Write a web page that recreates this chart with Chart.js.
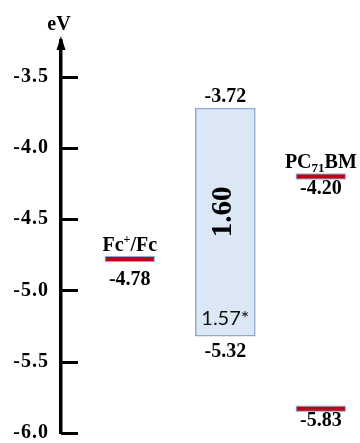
<!DOCTYPE html>
<html>
<head>
<meta charset="utf-8">
<script src="https://cdn.jsdelivr.net/npm/chart.js@4/dist/chart.umd.min.js"></script>
<style>
  html, body { margin: 0; padding: 0; background: #fff; }
  #wrap { width: 360px; height: 443px; }
</style>
</head>
<body>
<div id="wrap"><canvas id="chart"></canvas></div>
<script>
// 能階數據 (eV)
const columns = ['Fc+/Fc', 'gap', 'PC71BM'];
const fcLevels = [-4.78];
const gapLevels = [-3.72, -5.32];      // LUMO, HOMO
const gapLabels = ['1.60', '1.57*'];
const pcbmLevels = [-4.20, -5.83];
const yTicks = [-3.5, -4.0, -4.5, -5.0, -5.5, -6.0];
const yMin = -6.0;
const yMax = -3.25;

const SERIF = '"Liberation Serif", "Times New Roman", serif';
const RED = '#c00018';
const EDGE = '#8eaad2';

// 每一欄的位置就是它在 columns 裡的索引
const fcX = columns.indexOf('Fc+/Fc');
const gapX = columns.indexOf('gap');
const pcbmX = columns.indexOf('PC71BM');

const levelPoints = [
  ...fcLevels.map(v => ({ x: fcX, y: v })),
  ...pcbmLevels.map(v => ({ x: pcbmX, y: v }))
];

// 畫混合上下標的文字
function drawRuns(ctx, runs, cx, cy) {
  let total = 0;
  runs.forEach(r => {
    ctx.font = 'bold ' + r.size + 'px ' + SERIF;
    r.w = ctx.measureText(r.t).width;
    total += r.w;
  });
  let x = cx - total / 2;
  ctx.textAlign = 'left';
  ctx.textBaseline = 'alphabetic';
  runs.forEach(r => {
    ctx.font = 'bold ' + r.size + 'px ' + SERIF;
    ctx.fillText(r.t, x, cy + 7 + (r.dy || 0));
    x += r.w;
  });
}

function drawText(ctx, text, x, y, font) {
  ctx.font = font;
  ctx.textAlign = 'center';
  ctx.textBaseline = 'middle';
  ctx.fillText(text, x, y);
}

// 字距稍微拉開一點
const spacingPlugin = {
  id: 'spacing',
  beforeDraw(chart) { chart.ctx.letterSpacing = '1px'; },
  afterDraw(chart) { chart.ctx.letterSpacing = '0px'; }
};

const levelPlugin = {
  id: 'levelLabels',
  afterDraw(chart) {
    const ctx = chart.ctx;
    const xs = chart.scales.x;
    const ys = chart.scales.y;
    const axisX = chart.chartArea.left;
    const top = chart.chartArea.top;
    ctx.save();
    ctx.fillStyle = '#000';
    ctx.strokeStyle = '#000';

    // 刻度往右畫
    ctx.lineWidth = 3;
    ys.ticks.forEach(t => {
      const py = Math.round(ys.getPixelForValue(t.value)) + 0.5;
      ctx.beginPath();
      ctx.moveTo(axisX, py);
      ctx.lineTo(axisX + 17, py);
      ctx.stroke();
    });

    // 箭頭 + eV
    ctx.beginPath();
    ctx.moveTo(axisX, top - 5);
    ctx.lineTo(axisX - 4.5, top + 9);
    ctx.lineTo(axisX + 4.5, top + 9);
    ctx.closePath();
    ctx.fill();
    drawText(ctx, 'eV', axisX - 2, top - 16, 'bold 20px ' + SERIF);

    const valFont = 'bold 20px ' + SERIF;

    // Fc+/Fc
    const fx = xs.getPixelForValue(fcX);
    const fy = ys.getPixelForValue(fcLevels[0]);
    drawRuns(ctx, [
      { t: 'Fc', size: 20 },
      { t: '+', size: 12, dy: -8 },
      { t: '/Fc', size: 20 }
    ], fx, fy - 15);
    drawText(ctx, fcLevels[0].toFixed(2), fx, fy + 21, valFont);

    // PC71BM
    const px = xs.getPixelForValue(pcbmX);
    const py0 = ys.getPixelForValue(pcbmLevels[0]);
    drawRuns(ctx, [
      { t: 'PC', size: 20 },
      { t: '71', size: 13, dy: 4 },
      { t: 'BM', size: 20 }
    ], px, py0 - 15);
    pcbmLevels.forEach(v => {
      drawText(ctx, v.toFixed(2), px, ys.getPixelForValue(v) + 12, valFont);
    });

    // 能隙方塊
    const gx = xs.getPixelForValue(gapX);
    const gTop = ys.getPixelForValue(gapLevels[0]);
    const gBot = ys.getPixelForValue(gapLevels[1]);
    drawText(ctx, gapLevels[0].toFixed(2), gx, gTop - 11, valFont);
    drawText(ctx, gapLevels[1].toFixed(2), gx, gBot + 16, valFont);

    ctx.save();
    ctx.translate(gx - 2, gTop + (gBot - gTop) * 0.455);
    ctx.rotate(-Math.PI / 2);
    drawText(ctx, gapLabels[0], 0, 0, 'bold 29px ' + SERIF);
    ctx.restore();
    ctx.letterSpacing = '0px';
    ctx.fillStyle = '#111';
    drawText(ctx, gapLabels[1], gx, gBot - 18, '20px Lato, "Open Sans", sans-serif');

    ctx.restore();
  }
};

new Chart(document.getElementById('chart'), {
  type: 'bar',
  data: {
    datasets: [
      {
        type: 'bar',
        data: [{ x: gapX, y: [gapLevels[1], gapLevels[0]] }],
        backgroundColor: '#dce7f5',
        borderColor: EDGE,
        borderWidth: 1.5,
        borderSkipped: false,
        barThickness: 60,
        order: 3
      },
      {
        type: 'scatter',
        data: levelPoints,
        pointStyle: 'line',
        pointRadius: 25,
        pointBorderWidth: 6,
        pointBorderColor: EDGE,
        order: 2
      },
      {
        type: 'scatter',
        data: levelPoints,
        pointStyle: 'line',
        pointRadius: 24,
        pointBorderWidth: 4,
        pointBorderColor: RED,
        order: 1
      }
    ]
  },
  options: {
    responsive: true,
    maintainAspectRatio: false,
    animation: false,
    events: [],
    layout: {
      autoPadding: false,
      padding: { top: 41, bottom: 10, left: 0, right: 0 }
    },
    plugins: {
      legend: { display: false },
      tooltip: { enabled: false }
    },
    scales: {
      x: {
        type: 'linear',
        display: false,
        offset: false,
        min: -0.72,
        max: 2.41
      },
      y: {
        type: 'linear',
        min: yMin,
        max: yMax,
        afterBuildTicks: s => { s.ticks = yTicks.map(v => ({ value: v })); },
        afterFit: s => { s.width = 61; s.paddingTop = 0; s.paddingBottom = 0; },
        grid: { display: true, drawOnChartArea: false, drawTicks: false },
        border: { display: true, color: '#000', width: 3.5 },
        ticks: {
          padding: 12,
          color: '#000',
          font: { family: SERIF, size: 20, weight: 'bold' },
          callback: v => v.toFixed(1)
        }
      }
    }
  },
  plugins: [spacingPlugin, levelPlugin]
});
</script>
</body>
</html>
